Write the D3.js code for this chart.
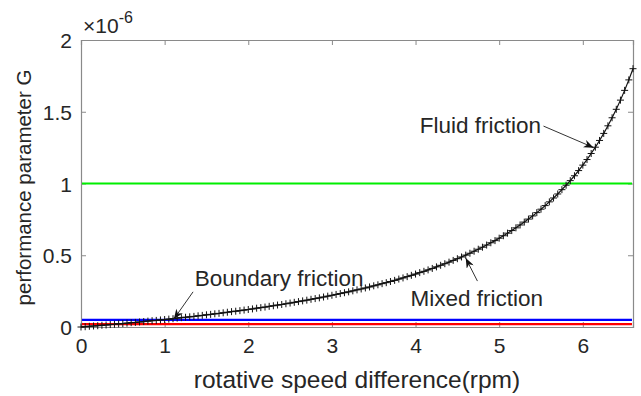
<!DOCTYPE html>
<html>
<head>
<meta charset="utf-8">
<script src="https://cdn.jsdelivr.net/npm/d3@7"></script>
<style>
    html, body { margin: 0; padding: 0; background: #fff; }
    svg { display: block; font-family: "Liberation Sans", Arial, sans-serif; }
</style>
</head>
<body>
<div id="chart"></div>
<script>
// rotative speed difference (rpm)
const speedValues = [
    0.00, 0.05, 0.10, 0.15, 0.20, 0.25, 0.30, 0.35, 0.40, 0.45,
    0.50, 0.55, 0.60, 0.65, 0.70, 0.75, 0.80, 0.85, 0.90, 0.95,
    1.00, 1.05, 1.10, 1.15, 1.20, 1.25, 1.30, 1.35, 1.40, 1.45,
    1.50, 1.55, 1.60, 1.65, 1.70, 1.75, 1.80, 1.85, 1.90, 1.95,
    2.00, 2.05, 2.10, 2.15, 2.20, 2.25, 2.30, 2.35, 2.40, 2.45,
    2.50, 2.55, 2.60, 2.65, 2.70, 2.75, 2.80, 2.85, 2.90, 2.95,
    3.00, 3.05, 3.10, 3.15, 3.20, 3.25, 3.30, 3.35, 3.40, 3.45,
    3.50, 3.55, 3.60, 3.65, 3.70, 3.75, 3.80, 3.85, 3.90, 3.95,
    4.00, 4.05, 4.10, 4.15, 4.20, 4.25, 4.30, 4.35, 4.40, 4.45,
    4.50, 4.55, 4.60, 4.65, 4.70, 4.75, 4.80, 4.85, 4.90, 4.95,
    5.00, 5.05, 5.10, 5.15, 5.20, 5.25, 5.30, 5.35, 5.40, 5.45,
    5.50, 5.55, 5.60, 5.65, 5.70, 5.75, 5.80, 5.85, 5.90, 5.95,
    6.00, 6.05, 6.10, 6.15, 6.20, 6.25, 6.30, 6.35, 6.40, 6.45,
    6.50, 6.55, 6.60
];

// performance parameter G (x 1e-6)
const gValues = [
    0.000, 0.002, 0.005, 0.007, 0.009, 0.012, 0.014, 0.017, 0.019, 0.022,
    0.024, 0.027, 0.030, 0.032, 0.035, 0.038, 0.041, 0.044, 0.046, 0.049,
    0.052, 0.055, 0.058, 0.062, 0.065, 0.068, 0.071, 0.074, 0.078, 0.081,
    0.085, 0.088, 0.092, 0.095, 0.099, 0.103, 0.107, 0.110, 0.114, 0.118,
    0.122, 0.126, 0.131, 0.135, 0.139, 0.144, 0.148, 0.153, 0.157, 0.162,
    0.167, 0.172, 0.177, 0.182, 0.187, 0.193, 0.198, 0.203, 0.209, 0.215,
    0.221, 0.227, 0.233, 0.239, 0.245, 0.252, 0.259, 0.265, 0.272, 0.279,
    0.287, 0.294, 0.302, 0.309, 0.317, 0.325, 0.334, 0.342, 0.351, 0.360,
    0.369, 0.379, 0.388, 0.398, 0.408, 0.419, 0.430, 0.441, 0.452, 0.464,
    0.476, 0.488, 0.501, 0.514, 0.528, 0.542, 0.556, 0.571, 0.587, 0.602,
    0.619, 0.636, 0.654, 0.672, 0.691, 0.711, 0.731, 0.752, 0.774, 0.797,
    0.821, 0.846, 0.872, 0.899, 0.927, 0.957, 0.988, 1.020, 1.054, 1.090,
    1.128, 1.167, 1.209, 1.253, 1.300, 1.349, 1.402, 1.458, 1.517, 1.581,
    1.649, 1.722, 1.800
];

// friction regime limits (x 1e-6)
const limitValues = [1.0, 0.05, 0.02];
const limitColors = ['#00ee00', '#0000ff', '#ff0000'];

const xTicks = [0, 1, 2, 3, 4, 5, 6];
const yTicks = [0, 0.5, 1, 1.5, 2];

// annotation text + arrow (data coords)
const noteLabels = ['Fluid friction', 'Boundary friction', 'Mixed friction'];
const noteText = [[5.50, 1.41, 'end'], [1.36, 0.34, 'start'], [3.94, 0.20, 'start']];
const noteArrowFrom = [[5.53, 1.40], [1.34, 0.245], [4.74, 0.32]];
const noteArrowTo = [[6.13, 1.25], [1.11, 0.055], [4.60, 0.48]];

const width = 641;
const height = 396;
const margin = { top: 40, right: 8, bottom: 69, left: 81 };
const plotW = width - margin.left - margin.right;
const plotH = height - margin.top - margin.bottom;

const svg = d3.select('#chart')
    .append('svg')
    .attr('width', width)
    .attr('height', height);

svg.append('rect').attr('width', width).attr('height', height).attr('fill', '#fff');

const defs = svg.append('defs');
defs.append('marker')
    .attr('id', 'arrowHead')
    .attr('viewBox', '0 0 10 8')
    .attr('refX', 10)
    .attr('refY', 4)
    .attr('markerWidth', 11)
    .attr('markerHeight', 8)
    .attr('markerUnits', 'userSpaceOnUse')
    .attr('orient', 'auto')
    .append('path')
    .attr('d', 'M0,0 L10,4 L0,8 L3,4 Z')
    .attr('fill', '#111');

const g = svg.append('g').attr('transform', `translate(${margin.left},${margin.top})`);

const x = d3.scaleLinear().domain([0, 6.6]).range([0, plotW]);
const y = d3.scaleLinear().domain([0, 2]).range([plotH, 0]);

const fmt = d => d3.format('~g')(d);
const axisColor = '#8a8a8a';
const textColor = '#262626';

// axes (ticks inside, MATLAB box)
const xAxis = g.append('g')
    .attr('transform', `translate(0,${plotH})`)
    .call(d3.axisBottom(x).tickValues(xTicks).tickFormat(fmt).tickSize(-5).tickPadding(11));
const xTop = g.append('g')
    .call(d3.axisTop(x).tickValues(xTicks).tickFormat('').tickSize(-5));
const yAxis = g.append('g')
    .call(d3.axisLeft(y).tickValues(yTicks).tickFormat(fmt).tickSize(-5).tickPadding(9));
const yRight = g.append('g')
    .attr('transform', `translate(${plotW},0)`)
    .call(d3.axisRight(y).tickValues(yTicks).tickFormat('').tickSize(-5));

[xAxis, xTop, yAxis, yRight].forEach(ax => {
    ax.select('.domain').attr('stroke', axisColor).attr('stroke-width', 1.2);
    ax.selectAll('.tick line').attr('stroke', axisColor);
    ax.selectAll('.tick text')
        .attr('fill', textColor)
        .style('font-size', '21px');
});
yAxis.selectAll('.tick text').attr('dy', '0.36em');

// exponent label
const expo = g.append('text')
    .attr('x', 2)
    .attr('y', -7)
    .attr('fill', textColor)
    .style('font-size', '21px');
expo.append('tspan').text('\u00d710');
expo.append('tspan').attr('dy', -10).style('font-size', '16px').text('-6');

// horizontal limit lines
g.selectAll('.limit')
    .data(limitValues)
    .enter()
    .append('line')
    .attr('class', 'limit')
    .attr('x1', 1)
    .attr('x2', plotW - 1)
    .attr('y1', d => y(d))
    .attr('y2', d => y(d))
    .attr('stroke', (d, i) => limitColors[i])
    .attr('stroke-width', 2.2);

// G curve with '+' markers
const points = speedValues.map((s, i) => [s, gValues[i]]);

g.append('path')
    .datum(points)
    .attr('fill', 'none')
    .attr('stroke', '#111')
    .attr('stroke-width', 1.2)
    .attr('d', d3.line().x(d => x(d[0])).y(d => y(d[1])));

g.selectAll('.mark')
    .data(points)
    .enter()
    .append('path')
    .attr('class', 'mark')
    .attr('transform', d => `translate(${x(d[0])},${y(d[1])})`)
    .attr('d', 'M-3.5,0H3.5M0,-3.5V3.5')
    .attr('stroke', '#111')
    .attr('stroke-width', 1);

// annotations
noteLabels.forEach((label, i) => {
    g.append('line')
        .attr('x1', x(noteArrowFrom[i][0]))
        .attr('y1', y(noteArrowFrom[i][1]))
        .attr('x2', x(noteArrowTo[i][0]))
        .attr('y2', y(noteArrowTo[i][1]))
        .attr('stroke', '#333')
        .attr('stroke-width', 1)
        .attr('marker-end', 'url(#arrowHead)');

    g.append('text')
        .attr('x', x(noteText[i][0]))
        .attr('y', y(noteText[i][1]))
        .attr('dy', '0.36em')
        .attr('text-anchor', noteText[i][2])
        .attr('fill', textColor)
        .style('font-size', '22.5px')
        .text(label);
});

// axis titles
svg.append('text')
    .attr('x', margin.left + plotW / 2)
    .attr('y', 388)
    .attr('text-anchor', 'middle')
    .attr('fill', textColor)
    .style('font-size', '24.5px')
    .text('rotative speed difference(rpm)');

svg.append('text')
    .attr('transform', `translate(31,${margin.top + plotH / 2 + 4}) rotate(-90)`)
    .attr('text-anchor', 'middle')
    .attr('fill', textColor)
    .style('font-size', '20.5px')
    .text('performance parameter G');
</script>
</body>
</html>
